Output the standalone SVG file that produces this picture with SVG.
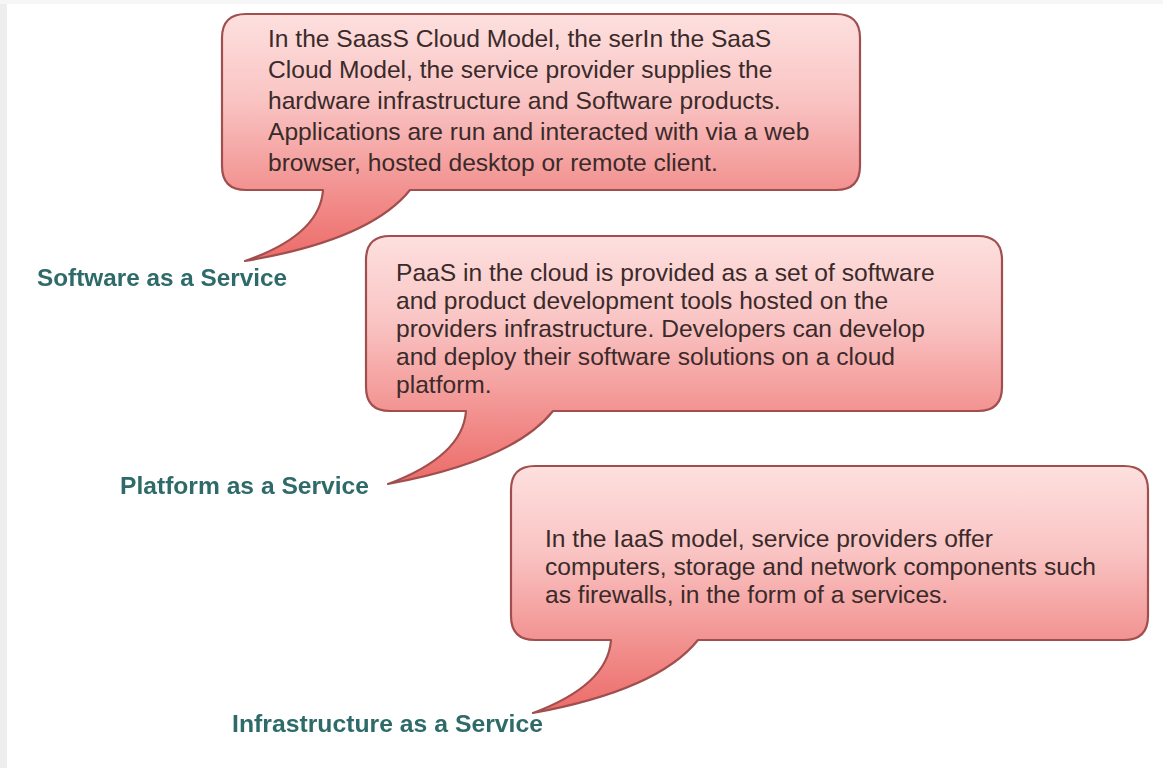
<svg xmlns="http://www.w3.org/2000/svg" width="1163" height="768" viewBox="0 0 1163 768">
  <defs>
    <linearGradient id="pink" x1="0" y1="0" x2="0" y2="1">
      <stop offset="0" stop-color="#fde0df"/>
      <stop offset="0.35" stop-color="#f9c4c3"/>
      <stop offset="0.71" stop-color="#f29290"/>
      <stop offset="1" stop-color="#ec6b68"/>
    </linearGradient>
    <filter id="glow" x="-5%" y="-30%" width="110%" height="160%">
      <feGaussianBlur in="SourceGraphic" stdDeviation="0.5"/>
    </filter>
  </defs>
  <style>
    .callout { fill: url(#pink); stroke: #a04f4e; stroke-width: 2.2; stroke-linejoin: round; }
    .body { font-family: "Liberation Sans", Arial, sans-serif; font-size: 24.6px; fill: #3a2a2a; }
    .label { font-family: "Liberation Sans", Arial, sans-serif; font-weight: bold; font-size: 24px; fill: #2f6b69; }
  </style>
  <rect x="0" y="0" width="1163" height="768" fill="#ffffff"/>
  <rect x="0" y="0" width="7" height="768" fill="#eeeeee"/>
  <rect x="0" y="0" width="1163" height="4" fill="#f6f6f6"/>

  <g id="connectors"></g>

  <g id="saas-callout">
    <path class="callout" d="M246,14 H836 Q860,14 860,38 V166 Q860,190 836,190 H410 Q370,240 245,261 Q320,235 323,190 H246 Q222,190 222,166 V38 Q222,14 246,14 Z"/>
    <text class="body" x="268" y="47">In the SaasS Cloud Model, the serIn the SaaS</text>
    <text class="body" x="268" y="78">Cloud Model, the service provider supplies the</text>
    <text class="body" x="268" y="109">hardware infrastructure and Software products.</text>
    <text class="body" x="268" y="140">Applications are run and interacted with via a web</text>
    <text class="body" x="268" y="171">browser, hosted desktop or remote client.</text>
  </g>

  <g id="saas-label">
    <text class="label" x="37" y="286" textLength="250" lengthAdjust="spacingAndGlyphs" filter="url(#glow)">Software as a Service</text>
  </g>

  <g id="paas-callout">
    <path class="callout" d="M390,236 H978 Q1002,236 1002,260 V387 Q1002,411 978,411 H553 Q513,461 388,484 Q463,456 466,411 H390 Q366,411 366,387 V260 Q366,236 390,236 Z"/>
    <text class="body" x="396" y="281">PaaS in the cloud is provided as a set of software</text>
    <text class="body" x="396" y="309">and product development tools hosted on the</text>
    <text class="body" x="396" y="337">providers infrastructure. Developers can develop</text>
    <text class="body" x="396" y="365">and deploy their software solutions on a cloud</text>
    <text class="body" x="396" y="393">platform.</text>
  </g>

  <g id="paas-label">
    <text class="label" x="120" y="494" textLength="249" lengthAdjust="spacingAndGlyphs" filter="url(#glow)">Platform as a Service</text>
  </g>

  <g id="iaas-callout">
    <path class="callout" d="M535,466 H1124 Q1148,466 1148,490 V616 Q1148,640 1124,640 H698 Q658,690 533,713 Q608,685 611,640 H535 Q511,640 511,616 V490 Q511,466 535,466 Z"/>
    <text class="body" x="545" y="547">In the IaaS model, service providers offer</text>
    <text class="body" x="545" y="575">computers, storage and network components such</text>
    <text class="body" x="545" y="603">as firewalls, in the form of a services.</text>
  </g>

  <g id="iaas-label">
    <text class="label" x="232" y="732" textLength="311" lengthAdjust="spacingAndGlyphs" filter="url(#glow)">Infrastructure as a Service</text>
  </g>
</svg>
